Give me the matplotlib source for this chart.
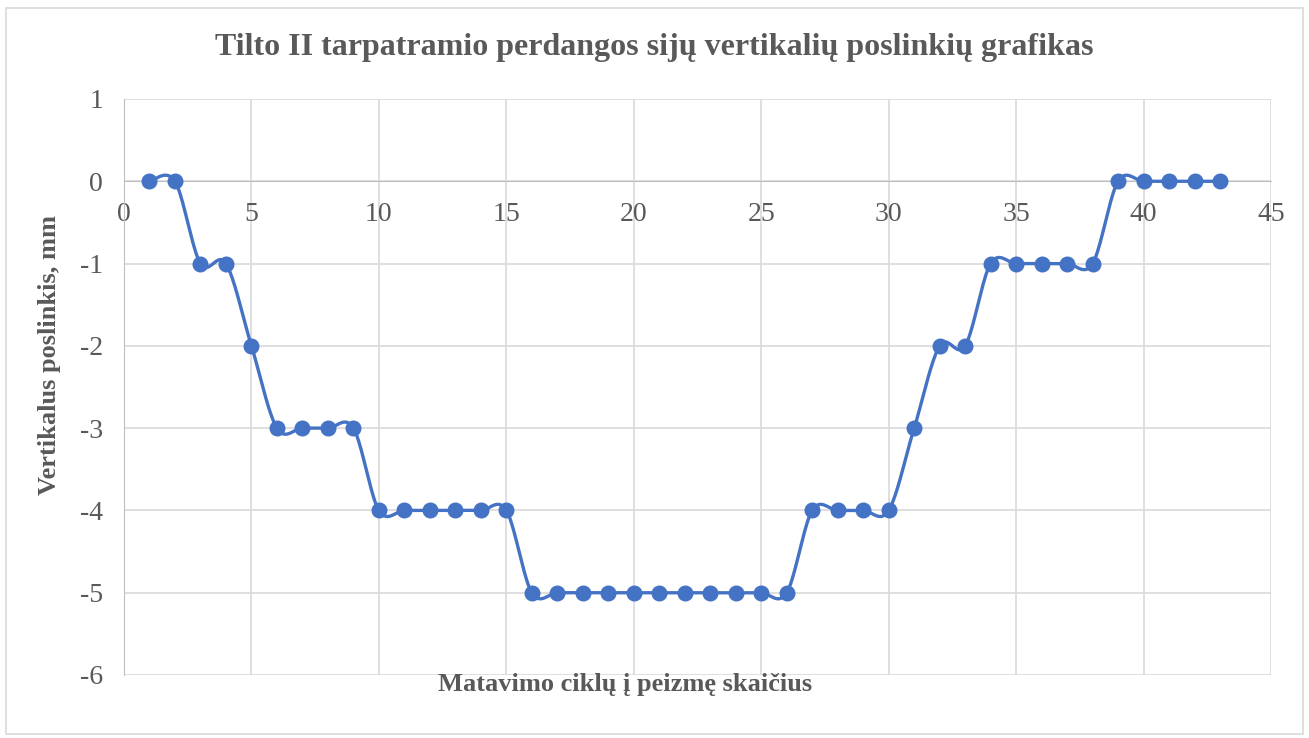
import numpy as np
import matplotlib.pyplot as plt

# measurement cycles and vertical displacement (mm)
cycles = list(range(1, 44))
displacement = [0, 0, -1, -1, -2, -3, -3, -3, -3, -4,
                -4, -4, -4, -4, -4, -5, -5, -5, -5, -5,
                -5, -5, -5, -5, -5, -5, -4, -4, -4, -4,
                -3, -2, -2, -1, -1, -1, -1, -1, 0, 0,
                0, 0, 0]

title = 'Tilto II tarpatramio perdangos sijų vertikalių poslinkių grafikas'
xlabel = 'Matavimo ciklų į peizmę skaičius'
ylabel = 'Vertikalus poslinkis, mm'

blue = '#4472c4'
grey_txt = '#595959'
grid_col = '#d9d9d9'
axis_col = '#bfbfbf'


def smooth(x, y, n=20):
    # Excel-like smoothed line (Catmull-Rom through the points)
    x = np.asarray(x, float)
    y = np.asarray(y, float)
    px = np.concatenate([[x[0]], x, [x[-1]]])
    py = np.concatenate([[y[0]], y, [y[-1]]])
    xs, ys = [], []
    t = np.linspace(0, 1, n, endpoint=False)
    for i in range(1, len(px) - 2):
        p0, p1, p2, p3 = px[i-1], px[i], px[i+1], px[i+2]
        q0, q1, q2, q3 = py[i-1], py[i], py[i+1], py[i+2]
        # cubic bezier with control points from neighbours
        c1x, c1y = p1 + (p2 - p0) / 6, q1 + (q2 - q0) / 6
        c2x, c2y = p2 - (p3 - p1) / 6, q2 - (q3 - q1) / 6
        b = [(1-t)**3, 3*(1-t)**2*t, 3*(1-t)*t**2, t**3]
        xs.append(b[0]*p1 + b[1]*c1x + b[2]*c2x + b[3]*p2)
        ys.append(b[0]*q1 + b[1]*c1y + b[2]*c2y + b[3]*q2)
    xs.append([x[-1]])
    ys.append([y[-1]])
    return np.concatenate(xs), np.concatenate(ys)


plt.rcParams['font.family'] = ['Liberation Serif', 'DejaVu Serif']
plt.rcParams['axes.unicode_minus'] = False

fig = plt.figure(figsize=(13.09, 7.38), dpi=100)
ax = fig.add_axes([124/1309, 1 - 675/738, (1271-124)/1309, (675-99)/738])

sx, sy = smooth(cycles, displacement)
ax.plot(sx, sy, color=blue, lw=2.4, zorder=3)
ax.plot(cycles, displacement, 'o', color=blue, ms=10.5, zorder=4)

ax.set_xlim(0, 45)
ax.set_ylim(-6, 1)
ax.set_xticks(range(0, 46, 5))
ax.set_yticks(range(-6, 2))
ax.grid(True, color=grid_col, lw=1.2)
ax.set_axisbelow(True)

ax.spines['top'].set_visible(False)
ax.spines['right'].set_visible(False)
ax.spines['left'].set_color(axis_col)
ax.spines['bottom'].set_position(('data', 0))
ax.spines['bottom'].set_color(axis_col)
ax.tick_params(length=0, labelsize=20, colors=grey_txt)
ax.tick_params(axis='x', pad=15)
ax.tick_params(axis='y', pad=15)

fig.text(0.5, 1 - 48/738, title, ha='center', va='center', fontsize=23,
         fontweight='bold', color=grey_txt)
fig.text(625/1309, 1 - 684/738, xlabel, ha='center', va='center', fontsize=19,
         fontweight='bold', color=grey_txt)
fig.text(50/1309, 1 - 355/738, ylabel, ha='center', va='center', fontsize=19,
         fontweight='bold', color=grey_txt, rotation=90)

# outer chart border
fig.patches.append(plt.Rectangle((6/1309, 1 - 734/738), 1297/1309, 726/738,
                                 transform=fig.transFigure, fill=False,
                                 edgecolor=grid_col, lw=1.2))

fig.savefig('out.png', dpi=100)
